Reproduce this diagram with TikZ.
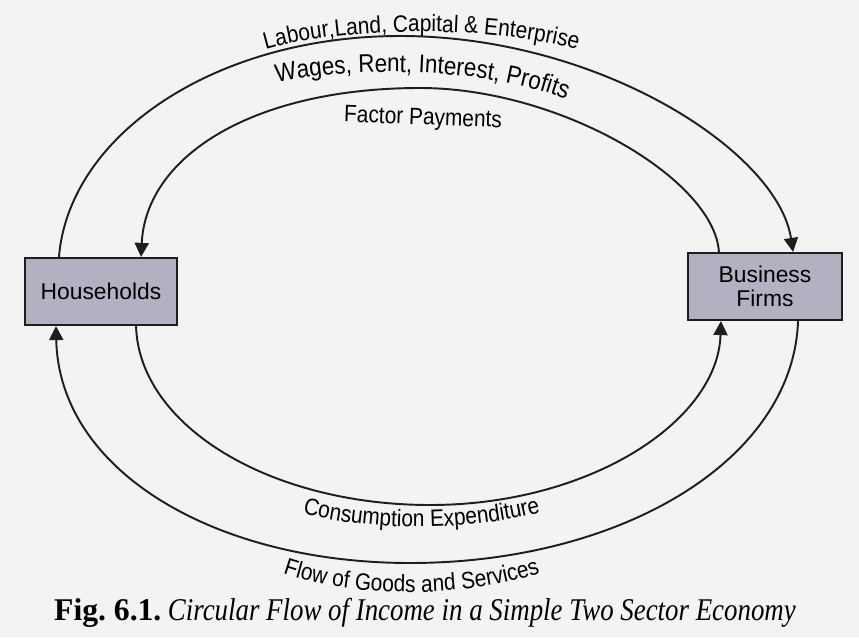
\documentclass[tikz,border=0pt]{standalone}
\usepackage{fontspec}
\setmainfont{Liberation Sans}
\newfontfamily\flowfont[FakeStretch=0.88]{Liberation Sans}
\newfontfamily\capfont{Liberation Serif}
\newfontfamily\capitfont[FakeStretch=0.85]{Liberation Serif}
\usepackage{xcolor}
\usetikzlibrary{arrows.meta,positioning,calc,decorations.text}

\definecolor{boxfill}{RGB}{180,176,194}
\definecolor{paper}{RGB}{243,243,243}
\definecolor{ink}{RGB}{30,30,30}

\newcommand\arcfont{\flowfont\fontsize{13.5}{15}\selectfont}
\newcommand\arcfontbig{\flowfont\fontsize{14.5}{16}\selectfont}

\tikzset{
  sector/.style={draw=ink, line width=1.2pt, fill=boxfill, minimum width=3.04cm,
    minimum height=1.34cm, align=center, font=\fontsize{13}{14}\selectfont},
  flow/.style={draw=ink, line width=1.1pt, -{Triangle[length=8pt,width=8pt]}},
}

\begin{document}
\begin{tikzpicture}[x=0.02cm,y=0.02cm]
\useasboundingbox (0,0) rectangle (859,637);
\fill[paper] (0,0) rectangle (859,637);

% the two sectors
\node[sector] (hh) at (101,345.5) {Households};
\node[sector, minimum width=3.08cm] (bf) at (765,350.5) {Business\\Firms};

% turning points of the loops
\coordinate (otop) at (400,601);
\coordinate (itop) at (420,549);
\coordinate (ibot) at (430,132);
\coordinate (obot) at (410,74);

% factor market
\draw[flow] ($(hh.north west)+(35,0)$) .. controls +(10,122) and +(-185,0) .. (otop)
  .. controls +(200,0) and +(-15,100) .. ($(bf.north east)+(-50,0)$);
\draw[flow] ($(bf.north west)+(32,0)$) .. controls +(-5,73) and +(140,0) .. (itop)
  .. controls +(-165,0) and +(5,102) .. ($(hh.north east)+(-37,0)$);

% goods market
\draw[flow] ($(hh.south east)+(-42,0)$) .. controls +(3,-100) and +(-160,0) .. (ibot)
  .. controls +(160,0) and +(-3,-100) .. ($(bf.south west)+(34,0)$);
\draw[flow] ($(bf.south east)+(-45,0)$) .. controls +(-5,-140) and +(210,0) .. (obot)
  .. controls +(-195,0) and +(3,-145) .. ($(hh.south west)+(32,0)$);

% labels on the loops
\path[decorate, decoration={text along path, text align=center,
  text={|\arcfont|Labour,Land, Capital {\&} Enterprise}}]
  (258,585) .. controls (340,612) and (500,612) .. (585,585);
\path[decorate, decoration={text along path, text align=center,
  text={|\arcfontbig|Wages, Rent, Interest, Profits}}]
  (275,554) .. controls (340,570) and (480,572) .. (568,537);
\node[font=\arcfont, rotate=-2] (fp) at (423,518) {Factor Payments};
\path[decorate, decoration={text along path, text align=center,
  text={|\arcfont|Consumption Expenditure}}]
  (298,125) .. controls (370,105) and (470,105) .. (545,126);
\path[decorate, decoration={text along path, text align=center,
  text={|\arcfont|Flow of Goods and Services}}]
  (278,65) .. controls (350,38) and (470,38) .. (545,66);

% caption
\node (cap) at (425,24) {{\capfont\bfseries\fontsize{18}{20}\selectfont Fig.\ 6.1.}
  {\capitfont\itshape\fontsize{18}{20}\selectfont Circular Flow of Income in a Simple Two Sector Economy}};
\end{tikzpicture}
\end{document}
